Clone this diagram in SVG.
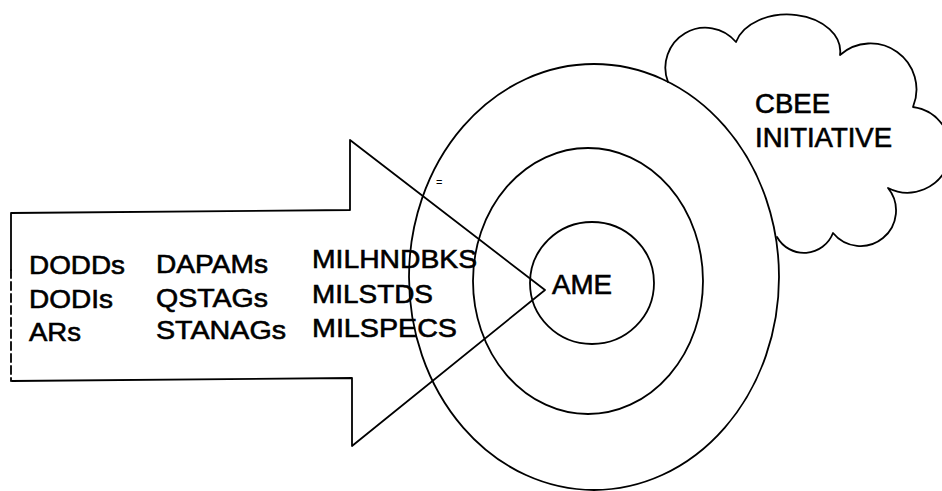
<svg xmlns="http://www.w3.org/2000/svg" width="942" height="491" viewBox="0 0 942 491">
<style>
.ln{fill:none;stroke:#000;stroke-width:1.8;stroke-linejoin:round;stroke-linecap:round}
.t{font-family:"Liberation Sans",Arial,Helvetica,sans-serif;font-size:26px;fill:#000;stroke:#000;stroke-width:0.6}
.tb{font-family:"Liberation Sans",Arial,Helvetica,sans-serif;font-size:27px;fill:#000;stroke:#000;stroke-width:0.6}
</style>
<rect width="942" height="491" fill="#fff"/>
<g id="target">
<ellipse class="ln" cx="594" cy="277" rx="185" ry="213"/>
<ellipse class="ln" cx="588" cy="281" rx="115" ry="133"/>
<ellipse class="ln" cx="592" cy="283" rx="62" ry="61"/>
</g>
<g id="cloud">
<path class="ln" d="M668,82 A40,40 0 0 1 736,42 A53,37 0 0 1 840,55 A46,46 0 0 1 913,107 A43,43 0 1 1 888,188 A35,35 0 1 1 833,233 A31,31 0 0 1 777,237"/>
<text class="tb" x="755" y="113" textLength="75" lengthAdjust="spacingAndGlyphs">CBEE</text>
<text class="tb" x="755" y="147" textLength="137" lengthAdjust="spacingAndGlyphs">INITIATIVE</text>
</g>
<g id="arrow">
<path class="ln" d="M11,270 L11,213 L350,210 L350,140 L545,290 L352,446 L352,378 L12,381"/>
<path class="ln" d="M11,270 L11,381" stroke-dasharray="8 4"/>
<text class="t" x="29" y="274" textLength="96" lengthAdjust="spacingAndGlyphs">DODDs</text>
<text class="t" x="29" y="308" textLength="84" lengthAdjust="spacingAndGlyphs">DODIs</text>
<text class="t" x="29" y="341" textLength="52" lengthAdjust="spacingAndGlyphs">ARs</text>
<text class="t" x="156" y="273" textLength="112" lengthAdjust="spacingAndGlyphs">DAPAMs</text>
<text class="t" x="156" y="307" textLength="112" lengthAdjust="spacingAndGlyphs">QSTAGs</text>
<text class="t" x="156" y="339" textLength="130" lengthAdjust="spacingAndGlyphs">STANAGs</text>
<text class="t" x="312" y="268" textLength="165" lengthAdjust="spacingAndGlyphs">MILHNDBKS</text>
<text class="t" x="312" y="303" textLength="121" lengthAdjust="spacingAndGlyphs">MILSTDS</text>
<text class="t" x="312" y="337" textLength="145" lengthAdjust="spacingAndGlyphs">MILSPECS</text>
<text x="436" y="186" font-family="Liberation Sans,sans-serif" font-size="11">=</text>
</g>
<g id="ame">
<text class="tb" x="552" y="294" textLength="60" lengthAdjust="spacingAndGlyphs">AME</text>
</g>
</svg>
